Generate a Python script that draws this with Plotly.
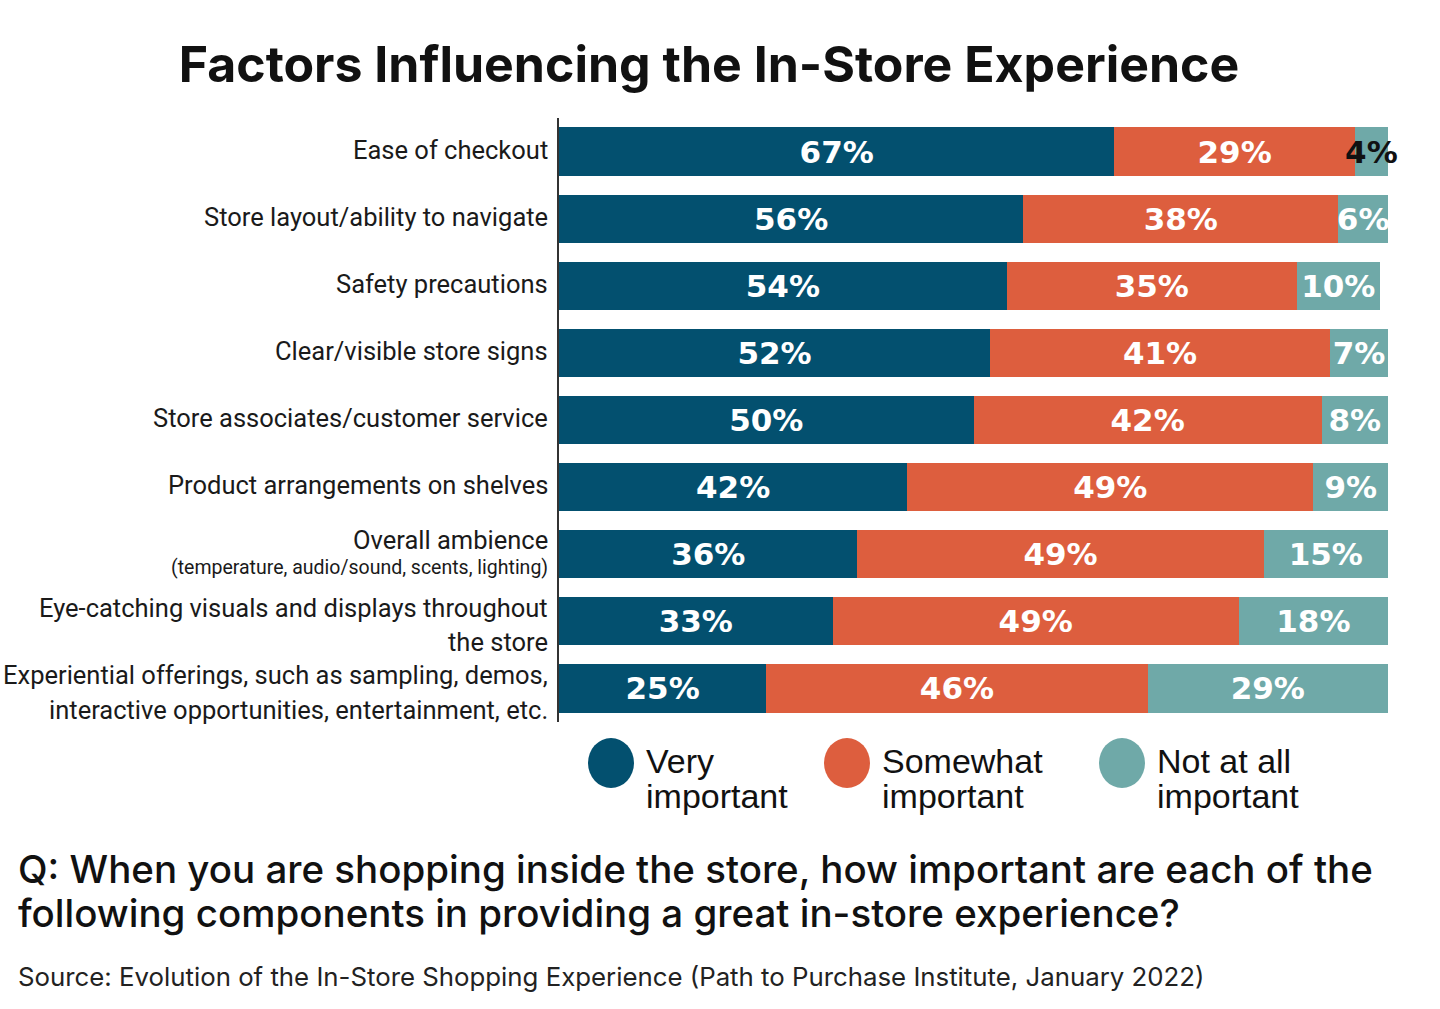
import plotly.graph_objects as go

# ---------------- data ----------------
categories = [
    "Ease of checkout",
    "Store layout/ability to navigate",
    "Safety precautions",
    "Clear/visible store signs",
    "Store associates/customer service",
    "Product arrangements on shelves",
    "Overall ambience",
    "Eye-catching visuals and displays throughout the store",
    "Experiential offerings, such as sampling, demos, interactive opportunities, entertainment, etc.",
]
label_lines = [
    [("Ease of checkout", "main")],
    [("Store layout/ability to navigate", "main")],
    [("Safety precautions", "main")],
    [("Clear/visible store signs", "main")],
    [("Store associates/customer service", "main")],
    [("Product arrangements on shelves", "main")],
    [("Overall ambience", "main"), ("(temperature, audio/sound, scents, lighting)", "sub")],
    [("Eye-catching visuals and displays throughout", "main"), ("the store", "main")],
    [("Experiential offerings, such as sampling, demos,", "main"),
     ("interactive opportunities, entertainment, etc.", "main")],
]
series_names = ["Very important", "Somewhat important", "Not at all important"]
legend_lines = [("Very", "important"), ("Somewhat", "important"), ("Not at all", "important")]
very_important = [67, 56, 54, 52, 50, 42, 36, 33, 25]
somewhat_important = [29, 38, 35, 41, 42, 49, 49, 49, 46]
not_important = [4, 6, 10, 7, 8, 9, 15, 18, 29]
series_values = [very_important, somewhat_important, not_important]

title_text = "Factors Influencing the In-Store Experience"
question_lines = [
    "Q: When you are shopping inside the store, how important are each of the",
    "following components in providing a great in-store experience?",
]
source_text = ("Source: Evolution of the In-Store Shopping Experience "
               "(Path to Purchase Institute, January 2022)")

# ---------------- style ----------------
colors = ["#03506f", "#dd5e3e", "#6fa9a8"]
W, H = 1440, 1009
ML, MR, MT, MB = 559, 52, 118, 287
PW, PH = W - ML - MR, H - MT - MB
label_font = "Roboto, Liberation Sans, sans-serif"
bar_font = "DejaVu Sans, Liberation Sans, sans-serif"
legend_font = "Liberation Sans, Arial, sans-serif"
geo_font = "Inter, Lato, sans-serif"
main_size, sub_size = 25.5, 19.5


def px_x(px):
    return (px - ML) / PW


def px_y(py):
    return (H - MB - py) / PH


fig = go.Figure()
for name, vals, col in zip(series_names, series_values, colors):
    txt_colors = ["#111111" if v < 5 else "white" for v in vals]
    fig.add_trace(go.Bar(
        y=categories, x=vals, name=name, orientation="h",
        marker=dict(color=col, line=dict(width=0)),
        texttemplate="%{x}%", textposition="inside",
        insidetextanchor="middle", textangle=0, constraintext="none",
        insidetextfont=dict(family=bar_font, size=31, color=txt_colors, weight="bold"),
        textfont=dict(family=bar_font, size=31, color=txt_colors, weight="bold"),
        cliponaxis=False, hoverinfo="skip", showlegend=False,
    ))

annotations = []
# category labels (left)
for cat, lines in zip(categories, label_lines):
    kinds = [kind for _, kind in lines]
    sizes = [main_size if kind == "main" else sub_size for kind in kinds]
    heights = [s * (1.34 if kind == "main" else 1.05) for s, kind in zip(sizes, kinds)]
    if len(lines) == 1:
        lift = 2
    elif "sub" in kinds:
        lift = 4
    else:
        lift = -4
    cursor = sum(heights) / 2 + lift
    for (text, kind), s, h in zip(lines, sizes, heights):
        center = cursor - h / 2
        annotations.append(dict(
            xref="paper", yref="y", x=0, y=cat, xanchor="right", yanchor="middle",
            xshift=-9, yshift=center, text=text, showarrow=False,
            font=dict(family=label_font, size=s, color="#1a1a1a"),
        ))
        cursor -= h

# legend (custom)
shapes = []
legend_x = [611, 847, 1122]
for lines, col, lx in zip(legend_lines, colors, legend_x):
    shapes.append(dict(
        type="circle", xref="paper", yref="paper", xsizemode="pixel", ysizemode="pixel",
        xanchor=px_x(lx), yanchor=px_y(763), x0=-23, x1=23, y0=-25, y1=25,
        fillcolor=col, line=dict(width=0),
    ))
    for t, yy in zip(lines, (761, 796)):
        annotations.append(dict(
            xref="paper", yref="paper", x=px_x(lx + 33), y=px_y(yy),
            xanchor="left", yanchor="middle", text=t, showarrow=False,
            font=dict(family=legend_font, size=34, color="#111111"),
        ))

# question and source
for t, yy in zip(question_lines, (869, 913)):
    annotations.append(dict(
        xref="paper", yref="paper", x=px_x(16), y=px_y(yy), xanchor="left", yanchor="middle",
        text=t, showarrow=False, font=dict(family=geo_font, size=38.5, color="#111111", weight=500),
    ))
annotations.append(dict(
    xref="paper", yref="paper", x=px_x(16), y=px_y(976), xanchor="left", yanchor="middle",
    text=source_text, showarrow=False, font=dict(family=geo_font, size=25.8, color="#222222"),
))

fig.update_layout(
    width=W, height=H, autosize=False,
    margin=dict(l=ML, r=MR, t=MT, b=MB, pad=0),
    paper_bgcolor="white", plot_bgcolor="white",
    barmode="stack", bargap=0.28,
    title=dict(text=title_text, xref="container", yref="container",
               x=709 / W, y=1 - 64 / H, xanchor="center", yanchor="middle",
               font=dict(family=geo_font, size=50, color="#111111", weight="bold")),
    xaxis=dict(range=[0, 100], visible=False, fixedrange=True),
    yaxis=dict(categoryorder="array", categoryarray=categories, autorange="reversed",
               showticklabels=False, showgrid=False, zeroline=False,
               showline=True, linecolor="#333333", linewidth=2, ticks="", fixedrange=True),
    annotations=annotations, shapes=shapes, showlegend=False,
)

fig.write_html("out.html", config={"displayModeBar": False},
               post_script="document.body.style.margin='0';document.body.style.overflow='hidden';")
